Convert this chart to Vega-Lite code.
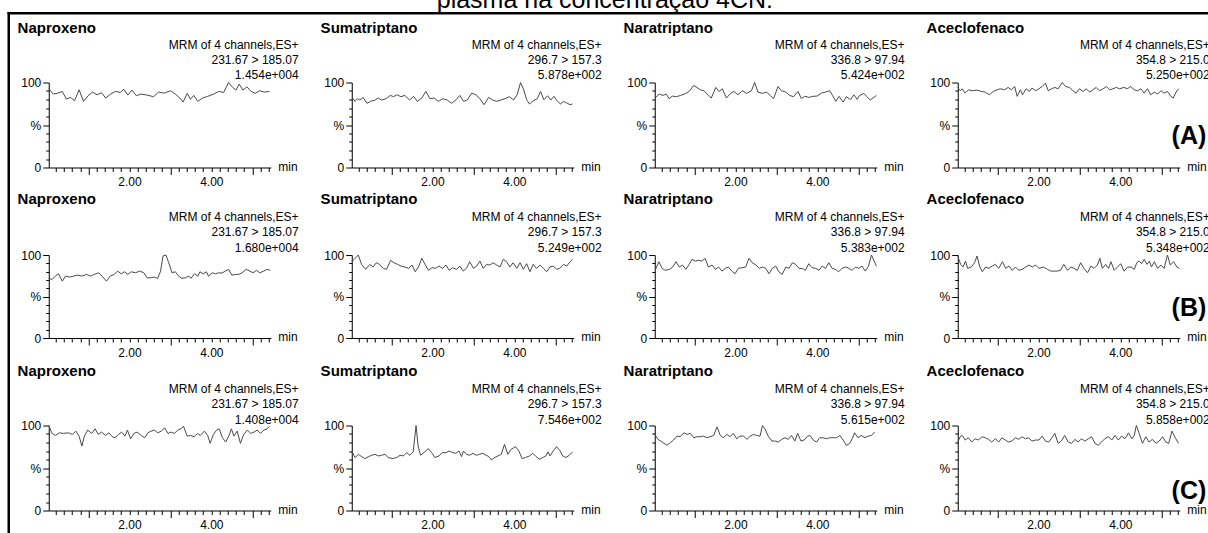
{
"$schema": "https://vega.github.io/schema/vega-lite/v6.json",
"autosize": {"type": "pad"},
"padding": {"left": 6.75, "top": -12.5, "right": -2, "bottom": 0},
"background": "white",
"config": {
  "font": "Liberation Sans",
  "view": {"stroke": null},
  "axis": {"grid": false, "domainColor": "#000", "domainWidth": 1, "tickColor": "#000", "tickWidth": 1, "labelColor": "#000", "labelFontSize": 12, "labelFont": "Liberation Sans", "titleColor": "#000", "titleFont": "Liberation Sans", "titleFontSize": 12, "titleFontWeight": "normal", "labelFlush": false},
  "text": {"color": "#000"}
},
"title": {"text": "plasma na concentração 4CN:", "anchor": "start", "frame": "group", "dx": 388, "dy": 24.5, "offset": 2.5, "baseline": "alphabetic", "fontSize": 25, "fontWeight": "normal", "font": "Liberation Sans", "color": "#000"},
"datasets": {
"A1": [{"t":0.03,"v":92.6},{"t":0.14,"v":86.4},{"t":0.25,"v":87.5},{"t":0.36,"v":89.5},{"t":0.46,"v":80.5},{"t":0.56,"v":82.5},{"t":0.66,"v":78.6},{"t":0.77,"v":91.4},{"t":0.88,"v":77.8},{"t":0.99,"v":84.4},{"t":1.10,"v":88.7},{"t":1.21,"v":85.6},{"t":1.32,"v":87.9},{"t":1.42,"v":81.7},{"t":1.54,"v":86.4},{"t":1.66,"v":89.5},{"t":1.78,"v":88.3},{"t":1.86,"v":92.2},{"t":1.96,"v":85.2},{"t":2.06,"v":91.1},{"t":2.17,"v":84.4},{"t":2.28,"v":86.4},{"t":2.43,"v":85.2},{"t":2.59,"v":83.3},{"t":2.71,"v":88.7},{"t":2.85,"v":87.5},{"t":3.00,"v":90.3},{"t":3.12,"v":86.4},{"t":3.23,"v":81.7},{"t":3.31,"v":77.0},{"t":3.41,"v":87.2},{"t":3.49,"v":80.2},{"t":3.57,"v":84.8},{"t":3.67,"v":77.8},{"t":3.78,"v":81.7},{"t":3.91,"v":83.7},{"t":4.06,"v":86.4},{"t":4.18,"v":89.5},{"t":4.30,"v":88.3},{"t":4.42,"v":100},{"t":4.52,"v":94.2},{"t":4.60,"v":91.1},{"t":4.68,"v":98.1},{"t":4.77,"v":91.1},{"t":4.87,"v":94.9},{"t":4.97,"v":89.5},{"t":5.07,"v":87.2},{"t":5.18,"v":90.3},{"t":5.29,"v":88.7},{"t":5.42,"v":89.5}],
"A2": [{"t":0.05,"v":81.7},{"t":0.11,"v":77.8},{"t":0.17,"v":80.9},{"t":0.23,"v":79.4},{"t":0.31,"v":82.5},{"t":0.40,"v":75.5},{"t":0.49,"v":77.8},{"t":0.60,"v":79.4},{"t":0.68,"v":81.7},{"t":0.76,"v":79.4},{"t":0.87,"v":80.9},{"t":0.97,"v":84.8},{"t":1.05,"v":83.3},{"t":1.14,"v":85.6},{"t":1.23,"v":83.3},{"t":1.33,"v":84.8},{"t":1.44,"v":79.4},{"t":1.54,"v":83.7},{"t":1.63,"v":77.8},{"t":1.74,"v":81.7},{"t":1.84,"v":89.5},{"t":1.94,"v":80.9},{"t":2.04,"v":81.7},{"t":2.15,"v":77.8},{"t":2.25,"v":80.9},{"t":2.36,"v":79.4},{"t":2.47,"v":75.5},{"t":2.58,"v":79.8},{"t":2.67,"v":84.8},{"t":2.76,"v":77.8},{"t":2.85,"v":79.4},{"t":2.96,"v":87.5},{"t":3.06,"v":85.6},{"t":3.16,"v":80.9},{"t":3.26,"v":73.9},{"t":3.37,"v":82.5},{"t":3.47,"v":79.4},{"t":3.57,"v":77.8},{"t":3.67,"v":79.4},{"t":3.77,"v":80.9},{"t":3.88,"v":83.3},{"t":3.98,"v":79.4},{"t":4.07,"v":85.6},{"t":4.15,"v":100},{"t":4.22,"v":92.6},{"t":4.30,"v":79.8},{"t":4.37,"v":74.7},{"t":4.46,"v":78.6},{"t":4.56,"v":80.9},{"t":4.64,"v":89.5},{"t":4.72,"v":79.8},{"t":4.81,"v":84.4},{"t":4.89,"v":79.4},{"t":4.97,"v":83.7},{"t":5.05,"v":77.8},{"t":5.13,"v":74.7},{"t":5.20,"v":77.8},{"t":5.28,"v":75.9},{"t":5.36,"v":73.9},{"t":5.42,"v":74.7}],
"A3": [{"t":0.05,"v":82.5},{"t":0.14,"v":86.4},{"t":0.23,"v":84.8},{"t":0.31,"v":86.4},{"t":0.38,"v":80.9},{"t":0.46,"v":84.0},{"t":0.56,"v":83.3},{"t":0.66,"v":84.8},{"t":0.76,"v":86.4},{"t":0.87,"v":89.5},{"t":0.98,"v":96.5},{"t":1.06,"v":94.2},{"t":1.14,"v":91.4},{"t":1.23,"v":90.3},{"t":1.31,"v":86.4},{"t":1.41,"v":81.7},{"t":1.52,"v":94.2},{"t":1.60,"v":89.5},{"t":1.68,"v":92.6},{"t":1.78,"v":81.7},{"t":1.88,"v":87.2},{"t":1.96,"v":89.5},{"t":2.06,"v":85.6},{"t":2.17,"v":90.3},{"t":2.27,"v":87.2},{"t":2.39,"v":90.3},{"t":2.47,"v":100},{"t":2.55,"v":88.7},{"t":2.66,"v":87.2},{"t":2.76,"v":88.7},{"t":2.85,"v":84.8},{"t":2.93,"v":80.9},{"t":3.04,"v":95.3},{"t":3.12,"v":90.3},{"t":3.23,"v":88.7},{"t":3.32,"v":84.8},{"t":3.42,"v":83.3},{"t":3.53,"v":89.5},{"t":3.61,"v":80.9},{"t":3.69,"v":83.7},{"t":3.80,"v":82.5},{"t":3.89,"v":83.7},{"t":3.99,"v":84.0},{"t":4.10,"v":87.5},{"t":4.20,"v":88.7},{"t":4.30,"v":90.3},{"t":4.37,"v":84.8},{"t":4.45,"v":77.8},{"t":4.53,"v":83.7},{"t":4.63,"v":77.0},{"t":4.71,"v":83.3},{"t":4.81,"v":79.8},{"t":4.89,"v":85.6},{"t":4.97,"v":80.2},{"t":5.03,"v":84.8},{"t":5.13,"v":87.2},{"t":5.21,"v":83.3},{"t":5.29,"v":79.4},{"t":5.38,"v":82.5},{"t":5.44,"v":84.8}],
"A4": [{"t":0.03,"v":94.2},{"t":0.09,"v":90.3},{"t":0.14,"v":92.6},{"t":0.21,"v":87.5},{"t":0.29,"v":91.4},{"t":0.39,"v":90.3},{"t":0.50,"v":91.1},{"t":0.60,"v":89.5},{"t":0.70,"v":88.7},{"t":0.80,"v":85.6},{"t":0.90,"v":89.5},{"t":0.99,"v":91.4},{"t":1.07,"v":92.6},{"t":1.17,"v":91.4},{"t":1.26,"v":94.2},{"t":1.34,"v":91.4},{"t":1.42,"v":95.3},{"t":1.48,"v":83.7},{"t":1.56,"v":91.4},{"t":1.61,"v":85.6},{"t":1.70,"v":92.6},{"t":1.78,"v":89.5},{"t":1.84,"v":93.4},{"t":1.93,"v":90.3},{"t":2.01,"v":92.6},{"t":2.09,"v":95.3},{"t":2.17,"v":99.2},{"t":2.24,"v":90.3},{"t":2.32,"v":92.6},{"t":2.40,"v":94.2},{"t":2.48,"v":92.6},{"t":2.58,"v":100},{"t":2.66,"v":95.3},{"t":2.76,"v":94.2},{"t":2.84,"v":90.3},{"t":2.92,"v":87.5},{"t":3.00,"v":92.6},{"t":3.09,"v":89.5},{"t":3.17,"v":92.6},{"t":3.25,"v":88.7},{"t":3.33,"v":91.4},{"t":3.41,"v":94.2},{"t":3.49,"v":90.3},{"t":3.58,"v":92.6},{"t":3.66,"v":95.3},{"t":3.74,"v":91.4},{"t":3.82,"v":92.6},{"t":3.90,"v":94.2},{"t":3.98,"v":92.6},{"t":4.09,"v":94.2},{"t":4.17,"v":92.6},{"t":4.25,"v":95.3},{"t":4.34,"v":91.4},{"t":4.42,"v":90.3},{"t":4.50,"v":92.6},{"t":4.58,"v":87.5},{"t":4.66,"v":92.6},{"t":4.74,"v":85.6},{"t":4.83,"v":88.7},{"t":4.91,"v":86.4},{"t":4.99,"v":90.3},{"t":5.07,"v":87.5},{"t":5.15,"v":89.5},{"t":5.23,"v":83.7},{"t":5.29,"v":81.7},{"t":5.36,"v":88.7},{"t":5.42,"v":92.6}],
"B1": [{"t":0.03,"v":71.8},{"t":0.11,"v":70.6},{"t":0.19,"v":74.6},{"t":0.27,"v":77.4},{"t":0.36,"v":68.5},{"t":0.44,"v":74.6},{"t":0.54,"v":73.4},{"t":0.64,"v":74.6},{"t":0.74,"v":75.8},{"t":0.84,"v":74.6},{"t":0.95,"v":76.6},{"t":1.05,"v":74.6},{"t":1.14,"v":76.6},{"t":1.25,"v":78.6},{"t":1.33,"v":74.6},{"t":1.44,"v":68.5},{"t":1.53,"v":74.6},{"t":1.63,"v":76.6},{"t":1.71,"v":80.6},{"t":1.80,"v":77.4},{"t":1.88,"v":79.8},{"t":1.96,"v":76.6},{"t":2.04,"v":79.8},{"t":2.15,"v":78.6},{"t":2.25,"v":80.6},{"t":2.35,"v":78.6},{"t":2.43,"v":72.6},{"t":2.53,"v":72.6},{"t":2.61,"v":73.4},{"t":2.69,"v":71.8},{"t":2.76,"v":80.6},{"t":2.82,"v":98.8},{"t":2.89,"v":100},{"t":2.96,"v":90.7},{"t":3.04,"v":78.6},{"t":3.12,"v":79.8},{"t":3.20,"v":74.6},{"t":3.28,"v":71.8},{"t":3.37,"v":72.6},{"t":3.45,"v":74.6},{"t":3.50,"v":71.8},{"t":3.59,"v":77.4},{"t":3.67,"v":74.6},{"t":3.72,"v":79.8},{"t":3.80,"v":77.4},{"t":3.88,"v":79.8},{"t":3.93,"v":74.6},{"t":4.02,"v":78.6},{"t":4.10,"v":77.4},{"t":4.18,"v":78.6},{"t":4.26,"v":78.2},{"t":4.34,"v":80.6},{"t":4.42,"v":82.7},{"t":4.50,"v":75.8},{"t":4.59,"v":76.6},{"t":4.67,"v":76.6},{"t":4.75,"v":78.6},{"t":4.85,"v":82.7},{"t":4.94,"v":80.6},{"t":5.02,"v":78.6},{"t":5.10,"v":81.5},{"t":5.18,"v":78.6},{"t":5.28,"v":80.6},{"t":5.36,"v":82.7},{"t":5.44,"v":81.5}],
"B2": [{"t":0.03,"v":91.9},{"t":0.11,"v":96.0},{"t":0.19,"v":100},{"t":0.27,"v":88.7},{"t":0.37,"v":82.7},{"t":0.47,"v":88.7},{"t":0.55,"v":85.5},{"t":0.63,"v":90.7},{"t":0.71,"v":88.7},{"t":0.80,"v":83.9},{"t":0.88,"v":82.7},{"t":0.98,"v":93.5},{"t":1.06,"v":90.7},{"t":1.15,"v":88.7},{"t":1.23,"v":86.7},{"t":1.33,"v":85.5},{"t":1.42,"v":83.9},{"t":1.50,"v":87.9},{"t":1.58,"v":79.8},{"t":1.66,"v":85.5},{"t":1.74,"v":96.0},{"t":1.82,"v":88.7},{"t":1.90,"v":81.5},{"t":1.99,"v":84.7},{"t":2.08,"v":83.9},{"t":2.16,"v":86.7},{"t":2.25,"v":83.9},{"t":2.33,"v":87.9},{"t":2.41,"v":81.5},{"t":2.49,"v":84.7},{"t":2.59,"v":82.7},{"t":2.67,"v":86.7},{"t":2.75,"v":80.6},{"t":2.83,"v":83.9},{"t":2.91,"v":91.9},{"t":3.00,"v":83.9},{"t":3.08,"v":86.7},{"t":3.16,"v":92.7},{"t":3.24,"v":83.9},{"t":3.32,"v":88.7},{"t":3.40,"v":87.9},{"t":3.48,"v":90.7},{"t":3.57,"v":87.9},{"t":3.65,"v":85.5},{"t":3.73,"v":94.8},{"t":3.81,"v":91.9},{"t":3.89,"v":85.5},{"t":3.97,"v":90.7},{"t":4.06,"v":83.9},{"t":4.14,"v":90.7},{"t":4.22,"v":82.7},{"t":4.30,"v":89.5},{"t":4.38,"v":79.8},{"t":4.46,"v":88.7},{"t":4.54,"v":83.9},{"t":4.63,"v":87.9},{"t":4.71,"v":83.9},{"t":4.79,"v":79.8},{"t":4.87,"v":85.5},{"t":4.95,"v":86.7},{"t":5.03,"v":82.7},{"t":5.11,"v":83.9},{"t":5.20,"v":88.7},{"t":5.28,"v":86.7},{"t":5.36,"v":91.9},{"t":5.42,"v":94.8}],
"B3": [{"t":0.05,"v":82.7},{"t":0.13,"v":91.9},{"t":0.21,"v":83.9},{"t":0.29,"v":81.5},{"t":0.39,"v":82.7},{"t":0.47,"v":85.5},{"t":0.55,"v":91.9},{"t":0.63,"v":85.5},{"t":0.71,"v":87.9},{"t":0.79,"v":82.7},{"t":0.87,"v":88.7},{"t":0.94,"v":94.8},{"t":1.02,"v":92.7},{"t":1.10,"v":93.5},{"t":1.18,"v":92.7},{"t":1.26,"v":96.0},{"t":1.34,"v":85.5},{"t":1.43,"v":87.9},{"t":1.51,"v":82.7},{"t":1.59,"v":85.5},{"t":1.67,"v":80.6},{"t":1.75,"v":83.9},{"t":1.83,"v":85.5},{"t":1.91,"v":80.6},{"t":1.99,"v":77.4},{"t":2.07,"v":83.9},{"t":2.16,"v":84.7},{"t":2.25,"v":85.5},{"t":2.33,"v":96.0},{"t":2.41,"v":90.7},{"t":2.50,"v":87.9},{"t":2.58,"v":83.9},{"t":2.66,"v":85.5},{"t":2.74,"v":83.9},{"t":2.82,"v":77.4},{"t":2.90,"v":83.9},{"t":2.98,"v":86.7},{"t":3.06,"v":79.8},{"t":3.14,"v":76.6},{"t":3.23,"v":85.5},{"t":3.31,"v":83.9},{"t":3.39,"v":90.7},{"t":3.47,"v":88.7},{"t":3.55,"v":83.9},{"t":3.63,"v":83.9},{"t":3.71,"v":81.5},{"t":3.79,"v":89.5},{"t":3.87,"v":84.7},{"t":3.96,"v":83.9},{"t":4.04,"v":81.5},{"t":4.12,"v":86.7},{"t":4.20,"v":83.9},{"t":4.28,"v":90.7},{"t":4.36,"v":83.9},{"t":4.44,"v":82.7},{"t":4.52,"v":79.8},{"t":4.60,"v":83.9},{"t":4.69,"v":85.5},{"t":4.77,"v":83.9},{"t":4.85,"v":81.5},{"t":4.93,"v":85.5},{"t":5.01,"v":83.9},{"t":5.09,"v":86.7},{"t":5.17,"v":80.6},{"t":5.25,"v":86.7},{"t":5.32,"v":100},{"t":5.38,"v":93.5},{"t":5.44,"v":86.7}],
"B4": [{"t":0.03,"v":98.8},{"t":0.10,"v":88.7},{"t":0.16,"v":85.5},{"t":0.22,"v":92.7},{"t":0.27,"v":83.9},{"t":0.36,"v":85.5},{"t":0.44,"v":90.7},{"t":0.50,"v":98.8},{"t":0.57,"v":85.5},{"t":0.63,"v":79.8},{"t":0.71,"v":85.5},{"t":0.79,"v":83.9},{"t":0.87,"v":86.7},{"t":0.95,"v":88.7},{"t":1.03,"v":83.9},{"t":1.12,"v":91.9},{"t":1.20,"v":83.9},{"t":1.28,"v":86.7},{"t":1.36,"v":81.5},{"t":1.44,"v":85.5},{"t":1.52,"v":81.5},{"t":1.60,"v":82.7},{"t":1.69,"v":85.5},{"t":1.77,"v":87.9},{"t":1.85,"v":85.5},{"t":1.93,"v":87.9},{"t":2.01,"v":83.9},{"t":2.12,"v":85.5},{"t":2.22,"v":82.7},{"t":2.30,"v":80.6},{"t":2.38,"v":80.6},{"t":2.46,"v":80.6},{"t":2.54,"v":81.5},{"t":2.62,"v":88.7},{"t":2.71,"v":81.5},{"t":2.79,"v":85.5},{"t":2.87,"v":83.9},{"t":2.95,"v":81.5},{"t":3.03,"v":90.7},{"t":3.11,"v":83.9},{"t":3.20,"v":78.6},{"t":3.28,"v":86.7},{"t":3.36,"v":83.9},{"t":3.44,"v":87.9},{"t":3.50,"v":96.0},{"t":3.56,"v":83.9},{"t":3.64,"v":88.7},{"t":3.71,"v":83.9},{"t":3.77,"v":91.9},{"t":3.85,"v":81.5},{"t":3.93,"v":85.5},{"t":4.01,"v":89.5},{"t":4.09,"v":80.6},{"t":4.18,"v":85.5},{"t":4.26,"v":85.5},{"t":4.34,"v":82.7},{"t":4.40,"v":90.7},{"t":4.46,"v":92.7},{"t":4.52,"v":89.5},{"t":4.58,"v":94.8},{"t":4.65,"v":88.7},{"t":4.71,"v":92.7},{"t":4.76,"v":85.5},{"t":4.83,"v":91.9},{"t":4.91,"v":83.9},{"t":4.99,"v":87.9},{"t":5.07,"v":83.9},{"t":5.15,"v":100},{"t":5.22,"v":87.9},{"t":5.30,"v":91.9},{"t":5.38,"v":85.5},{"t":5.44,"v":83.9}],
"C1": [{"t":0.03,"v":100},{"t":0.11,"v":90.7},{"t":0.19,"v":88.3},{"t":0.29,"v":91.4},{"t":0.39,"v":90.7},{"t":0.51,"v":91.4},{"t":0.61,"v":89.5},{"t":0.69,"v":93.4},{"t":0.77,"v":87.5},{"t":0.84,"v":75.9},{"t":0.90,"v":87.5},{"t":0.98,"v":94.6},{"t":1.08,"v":90.7},{"t":1.16,"v":96.1},{"t":1.24,"v":89.5},{"t":1.32,"v":92.2},{"t":1.42,"v":88.3},{"t":1.50,"v":91.4},{"t":1.58,"v":86.8},{"t":1.65,"v":85.6},{"t":1.73,"v":89.5},{"t":1.81,"v":92.2},{"t":1.89,"v":87.5},{"t":1.95,"v":94.6},{"t":2.03,"v":84.4},{"t":2.11,"v":90.7},{"t":2.19,"v":92.2},{"t":2.29,"v":88.3},{"t":2.37,"v":85.6},{"t":2.45,"v":91.4},{"t":2.53,"v":93.4},{"t":2.61,"v":94.6},{"t":2.69,"v":91.4},{"t":2.78,"v":93.4},{"t":2.86,"v":97.3},{"t":2.94,"v":90.7},{"t":3.02,"v":92.2},{"t":3.10,"v":90.7},{"t":3.18,"v":94.6},{"t":3.26,"v":96.1},{"t":3.32,"v":99.2},{"t":3.41,"v":87.5},{"t":3.49,"v":88.3},{"t":3.58,"v":86.8},{"t":3.66,"v":90.7},{"t":3.73,"v":88.3},{"t":3.83,"v":93.4},{"t":3.91,"v":88.3},{"t":3.97,"v":79.0},{"t":4.05,"v":89.5},{"t":4.13,"v":94.6},{"t":4.19,"v":96.1},{"t":4.27,"v":85.6},{"t":4.35,"v":80.5},{"t":4.43,"v":88.3},{"t":4.49,"v":96.1},{"t":4.55,"v":87.5},{"t":4.63,"v":93.4},{"t":4.71,"v":79.0},{"t":4.79,"v":89.5},{"t":4.88,"v":94.6},{"t":4.96,"v":90.7},{"t":5.04,"v":92.2},{"t":5.12,"v":94.6},{"t":5.20,"v":90.7},{"t":5.28,"v":94.6},{"t":5.36,"v":96.1},{"t":5.42,"v":99.2}],
"C2": [{"t":0.03,"v":70.0},{"t":0.11,"v":62.3},{"t":0.19,"v":66.1},{"t":0.27,"v":63.4},{"t":0.35,"v":61.1},{"t":0.44,"v":63.4},{"t":0.52,"v":65.0},{"t":0.60,"v":66.1},{"t":0.68,"v":64.2},{"t":0.76,"v":65.0},{"t":0.84,"v":66.1},{"t":0.92,"v":62.3},{"t":1.03,"v":61.1},{"t":1.13,"v":62.3},{"t":1.21,"v":65.0},{"t":1.29,"v":64.2},{"t":1.37,"v":68.1},{"t":1.45,"v":65.0},{"t":1.53,"v":68.9},{"t":1.60,"v":100},{"t":1.65,"v":75.9},{"t":1.71,"v":65.0},{"t":1.79,"v":68.1},{"t":1.90,"v":72.8},{"t":1.98,"v":68.1},{"t":2.06,"v":62.3},{"t":2.16,"v":64.2},{"t":2.24,"v":68.1},{"t":2.33,"v":68.1},{"t":2.41,"v":70.0},{"t":2.49,"v":68.1},{"t":2.57,"v":67.3},{"t":2.65,"v":70.0},{"t":2.71,"v":63.4},{"t":2.76,"v":70.0},{"t":2.83,"v":66.1},{"t":2.91,"v":65.0},{"t":2.99,"v":67.3},{"t":3.07,"v":65.0},{"t":3.15,"v":66.1},{"t":3.23,"v":67.3},{"t":3.31,"v":65.0},{"t":3.38,"v":63.4},{"t":3.44,"v":59.5},{"t":3.52,"v":62.3},{"t":3.60,"v":64.2},{"t":3.68,"v":66.1},{"t":3.76,"v":77.8},{"t":3.84,"v":66.1},{"t":3.92,"v":72.0},{"t":4.03,"v":75.1},{"t":4.11,"v":70.0},{"t":4.19,"v":61.1},{"t":4.27,"v":62.3},{"t":4.37,"v":64.2},{"t":4.45,"v":67.3},{"t":4.53,"v":63.4},{"t":4.61,"v":60.3},{"t":4.69,"v":62.3},{"t":4.77,"v":64.2},{"t":4.82,"v":68.9},{"t":4.87,"v":64.2},{"t":4.95,"v":70.0},{"t":5.03,"v":75.1},{"t":5.12,"v":70.0},{"t":5.18,"v":64.2},{"t":5.26,"v":62.3},{"t":5.34,"v":65.0},{"t":5.42,"v":68.9}],
"C3": [{"t":0.03,"v":89.5},{"t":0.11,"v":83.7},{"t":0.21,"v":80.5},{"t":0.33,"v":76.7},{"t":0.41,"v":79.8},{"t":0.49,"v":82.9},{"t":0.57,"v":87.5},{"t":0.65,"v":86.8},{"t":0.74,"v":91.4},{"t":0.82,"v":89.5},{"t":0.90,"v":90.7},{"t":0.98,"v":85.6},{"t":1.06,"v":86.8},{"t":1.14,"v":86.8},{"t":1.22,"v":87.5},{"t":1.30,"v":85.6},{"t":1.38,"v":86.8},{"t":1.47,"v":88.3},{"t":1.55,"v":98.4},{"t":1.63,"v":88.3},{"t":1.71,"v":85.6},{"t":1.79,"v":89.5},{"t":1.87,"v":86.8},{"t":1.95,"v":90.7},{"t":2.03,"v":84.4},{"t":2.11,"v":87.5},{"t":2.20,"v":87.5},{"t":2.28,"v":83.7},{"t":2.36,"v":87.5},{"t":2.44,"v":89.5},{"t":2.52,"v":88.3},{"t":2.60,"v":87.5},{"t":2.66,"v":100},{"t":2.72,"v":96.1},{"t":2.80,"v":87.5},{"t":2.89,"v":81.7},{"t":2.97,"v":81.7},{"t":3.05,"v":80.5},{"t":3.13,"v":83.7},{"t":3.21,"v":85.6},{"t":3.29,"v":83.7},{"t":3.37,"v":88.3},{"t":3.45,"v":81.7},{"t":3.52,"v":90.7},{"t":3.60,"v":81.7},{"t":3.68,"v":82.9},{"t":3.76,"v":87.5},{"t":3.82,"v":88.3},{"t":3.90,"v":82.9},{"t":3.98,"v":80.5},{"t":4.06,"v":85.6},{"t":4.14,"v":85.6},{"t":4.22,"v":84.4},{"t":4.30,"v":85.6},{"t":4.39,"v":85.6},{"t":4.47,"v":85.6},{"t":4.55,"v":88.3},{"t":4.63,"v":82.9},{"t":4.71,"v":76.7},{"t":4.79,"v":79.0},{"t":4.85,"v":84.4},{"t":4.91,"v":91.4},{"t":4.99,"v":85.6},{"t":5.07,"v":88.3},{"t":5.16,"v":85.6},{"t":5.24,"v":87.5},{"t":5.32,"v":88.3},{"t":5.40,"v":92.2}],
"C4": [{"t":0.03,"v":80.5},{"t":0.09,"v":86.8},{"t":0.14,"v":88.3},{"t":0.21,"v":82.9},{"t":0.29,"v":85.6},{"t":0.37,"v":80.5},{"t":0.45,"v":84.4},{"t":0.54,"v":82.9},{"t":0.62,"v":86.8},{"t":0.70,"v":85.6},{"t":0.78,"v":83.7},{"t":0.86,"v":80.5},{"t":0.95,"v":84.4},{"t":1.03,"v":80.5},{"t":1.11,"v":85.6},{"t":1.19,"v":82.9},{"t":1.27,"v":80.5},{"t":1.35,"v":81.7},{"t":1.44,"v":85.6},{"t":1.52,"v":83.7},{"t":1.60,"v":86.8},{"t":1.68,"v":84.4},{"t":1.76,"v":85.6},{"t":1.84,"v":81.7},{"t":1.93,"v":82.9},{"t":2.01,"v":82.9},{"t":2.09,"v":87.5},{"t":2.17,"v":81.7},{"t":2.25,"v":80.5},{"t":2.33,"v":85.6},{"t":2.40,"v":90.7},{"t":2.48,"v":79.0},{"t":2.56,"v":81.7},{"t":2.64,"v":88.3},{"t":2.73,"v":80.5},{"t":2.81,"v":79.0},{"t":2.89,"v":83.7},{"t":2.97,"v":80.5},{"t":3.05,"v":84.4},{"t":3.13,"v":81.7},{"t":3.22,"v":84.4},{"t":3.30,"v":86.8},{"t":3.38,"v":79.0},{"t":3.46,"v":76.7},{"t":3.54,"v":80.5},{"t":3.62,"v":84.4},{"t":3.71,"v":86.8},{"t":3.79,"v":82.9},{"t":3.87,"v":88.3},{"t":3.95,"v":82.9},{"t":4.03,"v":87.5},{"t":4.11,"v":84.4},{"t":4.20,"v":91.4},{"t":4.28,"v":84.4},{"t":4.34,"v":88.3},{"t":4.39,"v":100},{"t":4.46,"v":90.7},{"t":4.54,"v":79.0},{"t":4.62,"v":86.8},{"t":4.70,"v":80.5},{"t":4.78,"v":83.7},{"t":4.87,"v":79.0},{"t":4.95,"v":81.7},{"t":5.03,"v":86.8},{"t":5.11,"v":80.5},{"t":5.18,"v":79.0},{"t":5.26,"v":93.4},{"t":5.34,"v":85.6},{"t":5.42,"v":79.0}]
},
"columns": 4,
"spacing": {"row": 87.5, "column": 81},
"bounds": "flush",
"concat": [
{"width": 222, "height": 85, "layer": [
  {"data": {"name": "A1"}, "mark": {"type": "line", "color": "#4a4a4a", "strokeWidth": 1}, "encoding": {
    "x": {"field": "t", "type": "quantitative", "scale": {"domain": [0.03, 5.45], "nice": false, "zero": false}, "axis": {"title": "min", "tickCount": 100, "labelOverlap": false, "values": [0.2,0.4,0.6,0.8,1,1.2,1.4,1.6,1.8,2,2.2,2.4,2.6,2.8,3,3.2,3.4,3.6,3.8,4,4.2,4.4,4.6,4.8,5,5.2,5.4], "labelExpr": "datum.value == 2 || datum.value == 4 ? format(datum.value, '.2f') : ''", "tickSize": {"condition": {"test": "datum.value == 1 || datum.value == 3 || datum.value == 5", "value": 7}, "value": 4}, "labelPadding": 5, "titleX": 229, "titleY": 2.5, "titleAlign": "left", "titleBaseline": "alphabetic", "titleAngle": 0}},
    "y": {"field": "v", "type": "quantitative", "scale": {"domain": [0, 100], "nice": false}, "axis": {"title": null, "tickCount": 100, "labelOverlap": false, "values": [0,10,20,30,40,50,60,70,80,90,100], "labelExpr": "datum.value == 100 ? '100' : datum.value == 50 ? '%' : datum.value == 0 ? '0' : ''", "tickSize": {"condition": {"test": "datum.value == 0 || datum.value == 50 || datum.value == 100", "value": 6}, "value": 3}, "labelPadding": 2}}}},
  {"data": {"values": [{}]}, "mark": {"type": "rule", "color": "#000", "strokeWidth": 2.5, "strokeCap": "square"}, "encoding": {"x": {"datum": -0.947}, "x2": {"datum": 28.35}, "y": {"datum": 181.5}}},
  {"data": {"values": [{}]}, "mark": {"type": "rule", "color": "#000", "strokeWidth": 2.5, "strokeCap": "square"}, "encoding": {"x": {"datum": -0.947}, "y": {"datum": 181.5}, "y2": {"datum": -432}}},
  {"data": {"values": [{}]}, "mark": {"type": "text", "align": "left", "baseline": "alphabetic", "fontSize": 15, "fontWeight": "bold"}, "encoding": {"x": {"datum": -0.73}, "y": {"datum": 158.8}, "text": {"value": "Naproxeno"}}},
  {"data": {"values": [{}]}, "mark": {"type": "text", "align": "right", "baseline": "alphabetic", "fontSize": 12, "lineHeight": 15.3}, "encoding": {"x": {"datum": 6.13}, "y": {"datum": 140}, "text": {"value": ["MRM of 4 channels,ES+", "231.67 > 185.07", "1.454e+004"]}}}
]},
{"width": 222, "height": 85, "layer": [
  {"data": {"name": "A2"}, "mark": {"type": "line", "color": "#4a4a4a", "strokeWidth": 1}, "encoding": {
    "x": {"field": "t", "type": "quantitative", "scale": {"domain": [0.03, 5.45], "nice": false, "zero": false}, "axis": {"title": "min", "tickCount": 100, "labelOverlap": false, "values": [0.2,0.4,0.6,0.8,1,1.2,1.4,1.6,1.8,2,2.2,2.4,2.6,2.8,3,3.2,3.4,3.6,3.8,4,4.2,4.4,4.6,4.8,5,5.2,5.4], "labelExpr": "datum.value == 2 || datum.value == 4 ? format(datum.value, '.2f') : ''", "tickSize": {"condition": {"test": "datum.value == 1 || datum.value == 3 || datum.value == 5", "value": 7}, "value": 4}, "labelPadding": 5, "titleX": 229, "titleY": 2.5, "titleAlign": "left", "titleBaseline": "alphabetic", "titleAngle": 0}},
    "y": {"field": "v", "type": "quantitative", "scale": {"domain": [0, 100], "nice": false}, "axis": {"title": null, "tickCount": 100, "labelOverlap": false, "values": [0,10,20,30,40,50,60,70,80,90,100], "labelExpr": "datum.value == 100 ? '100' : datum.value == 50 ? '%' : datum.value == 0 ? '0' : ''", "tickSize": {"condition": {"test": "datum.value == 0 || datum.value == 50 || datum.value == 100", "value": 6}, "value": 3}, "labelPadding": 2}}}},
  {"data": {"values": [{}]}, "mark": {"type": "text", "align": "left", "baseline": "alphabetic", "fontSize": 15, "fontWeight": "bold"}, "encoding": {"x": {"datum": -0.73}, "y": {"datum": 158.8}, "text": {"value": "Sumatriptano"}}},
  {"data": {"values": [{}]}, "mark": {"type": "text", "align": "right", "baseline": "alphabetic", "fontSize": 12, "lineHeight": 15.3}, "encoding": {"x": {"datum": 6.13}, "y": {"datum": 140}, "text": {"value": ["MRM of 4 channels,ES+", "296.7 > 157.3", "5.878e+002"]}}}
]},
{"width": 222, "height": 85, "layer": [
  {"data": {"name": "A3"}, "mark": {"type": "line", "color": "#4a4a4a", "strokeWidth": 1}, "encoding": {
    "x": {"field": "t", "type": "quantitative", "scale": {"domain": [0.03, 5.45], "nice": false, "zero": false}, "axis": {"title": "min", "tickCount": 100, "labelOverlap": false, "values": [0.2,0.4,0.6,0.8,1,1.2,1.4,1.6,1.8,2,2.2,2.4,2.6,2.8,3,3.2,3.4,3.6,3.8,4,4.2,4.4,4.6,4.8,5,5.2,5.4], "labelExpr": "datum.value == 2 || datum.value == 4 ? format(datum.value, '.2f') : ''", "tickSize": {"condition": {"test": "datum.value == 1 || datum.value == 3 || datum.value == 5", "value": 7}, "value": 4}, "labelPadding": 5, "titleX": 229, "titleY": 2.5, "titleAlign": "left", "titleBaseline": "alphabetic", "titleAngle": 0}},
    "y": {"field": "v", "type": "quantitative", "scale": {"domain": [0, 100], "nice": false}, "axis": {"title": null, "tickCount": 100, "labelOverlap": false, "values": [0,10,20,30,40,50,60,70,80,90,100], "labelExpr": "datum.value == 100 ? '100' : datum.value == 50 ? '%' : datum.value == 0 ? '0' : ''", "tickSize": {"condition": {"test": "datum.value == 0 || datum.value == 50 || datum.value == 100", "value": 6}, "value": 3}, "labelPadding": 2}}}},
  {"data": {"values": [{}]}, "mark": {"type": "text", "align": "left", "baseline": "alphabetic", "fontSize": 15, "fontWeight": "bold"}, "encoding": {"x": {"datum": -0.73}, "y": {"datum": 158.8}, "text": {"value": "Naratriptano"}}},
  {"data": {"values": [{}]}, "mark": {"type": "text", "align": "right", "baseline": "alphabetic", "fontSize": 12, "lineHeight": 15.3}, "encoding": {"x": {"datum": 6.13}, "y": {"datum": 140}, "text": {"value": ["MRM of 4 channels,ES+", "336.8 > 97.94", "5.424e+002"]}}}
]},
{"width": 222, "height": 85, "layer": [
  {"data": {"name": "A4"}, "mark": {"type": "line", "color": "#4a4a4a", "strokeWidth": 1}, "encoding": {
    "x": {"field": "t", "type": "quantitative", "scale": {"domain": [0.03, 5.45], "nice": false, "zero": false}, "axis": {"title": "min", "tickCount": 100, "labelOverlap": false, "values": [0.2,0.4,0.6,0.8,1,1.2,1.4,1.6,1.8,2,2.2,2.4,2.6,2.8,3,3.2,3.4,3.6,3.8,4,4.2,4.4,4.6,4.8,5,5.2,5.4], "labelExpr": "datum.value == 2 || datum.value == 4 ? format(datum.value, '.2f') : ''", "tickSize": {"condition": {"test": "datum.value == 1 || datum.value == 3 || datum.value == 5", "value": 7}, "value": 4}, "labelPadding": 5, "titleX": 229, "titleY": 2.5, "titleAlign": "left", "titleBaseline": "alphabetic", "titleAngle": 0}},
    "y": {"field": "v", "type": "quantitative", "scale": {"domain": [0, 100], "nice": false}, "axis": {"title": null, "tickCount": 100, "labelOverlap": false, "values": [0,10,20,30,40,50,60,70,80,90,100], "labelExpr": "datum.value == 100 ? '100' : datum.value == 50 ? '%' : datum.value == 0 ? '0' : ''", "tickSize": {"condition": {"test": "datum.value == 0 || datum.value == 50 || datum.value == 100", "value": 6}, "value": 3}, "labelPadding": 2}}}},
  {"data": {"values": [{}]}, "mark": {"type": "text", "align": "left", "baseline": "alphabetic", "fontSize": 15, "fontWeight": "bold"}, "encoding": {"x": {"datum": -0.73}, "y": {"datum": 158.8}, "text": {"value": "Aceclofenaco"}}},
  {"data": {"values": [{}]}, "mark": {"type": "text", "align": "right", "baseline": "alphabetic", "fontSize": 12, "lineHeight": 15.3}, "encoding": {"x": {"datum": 6.18}, "y": {"datum": 140}, "text": {"value": ["MRM of 4 channels,ES+", "354.8 > 215.0", "5.250e+002"]}}},
  {"data": {"values": [{}]}, "mark": {"type": "text", "align": "left", "baseline": "alphabetic", "fontSize": 25, "fontWeight": "bold"}, "encoding": {"x": {"datum": 5.25}, "y": {"datum": 27.1}, "text": {"value": "(A)"}}}
]},
{"width": 222, "height": 83, "layer": [
  {"data": {"name": "B1"}, "mark": {"type": "line", "color": "#4a4a4a", "strokeWidth": 1}, "encoding": {
    "x": {"field": "t", "type": "quantitative", "scale": {"domain": [0.03, 5.45], "nice": false, "zero": false}, "axis": {"title": "min", "tickCount": 100, "labelOverlap": false, "values": [0.2,0.4,0.6,0.8,1,1.2,1.4,1.6,1.8,2,2.2,2.4,2.6,2.8,3,3.2,3.4,3.6,3.8,4,4.2,4.4,4.6,4.8,5,5.2,5.4], "labelExpr": "datum.value == 2 || datum.value == 4 ? format(datum.value, '.2f') : ''", "tickSize": {"condition": {"test": "datum.value == 1 || datum.value == 3 || datum.value == 5", "value": 7}, "value": 4}, "labelPadding": 5, "titleX": 229, "titleY": 2.5, "titleAlign": "left", "titleBaseline": "alphabetic", "titleAngle": 0}},
    "y": {"field": "v", "type": "quantitative", "scale": {"domain": [0, 100], "nice": false}, "axis": {"title": null, "tickCount": 100, "labelOverlap": false, "values": [0,10,20,30,40,50,60,70,80,90,100], "labelExpr": "datum.value == 100 ? '100' : datum.value == 50 ? '%' : datum.value == 0 ? '0' : ''", "tickSize": {"condition": {"test": "datum.value == 0 || datum.value == 50 || datum.value == 100", "value": 6}, "value": 3}, "labelPadding": 2}}}},
  {"data": {"values": [{}]}, "mark": {"type": "text", "align": "left", "baseline": "alphabetic", "fontSize": 15, "fontWeight": "bold"}, "encoding": {"x": {"datum": -0.73}, "y": {"datum": 161.4}, "text": {"value": "Naproxeno"}}},
  {"data": {"values": [{}]}, "mark": {"type": "text", "align": "right", "baseline": "alphabetic", "fontSize": 12, "lineHeight": 15.3}, "encoding": {"x": {"datum": 6.13}, "y": {"datum": 141}, "text": {"value": ["MRM of 4 channels,ES+", "231.67 > 185.07", "1.680e+004"]}}}
]},
{"width": 222, "height": 83, "layer": [
  {"data": {"name": "B2"}, "mark": {"type": "line", "color": "#4a4a4a", "strokeWidth": 1}, "encoding": {
    "x": {"field": "t", "type": "quantitative", "scale": {"domain": [0.03, 5.45], "nice": false, "zero": false}, "axis": {"title": "min", "tickCount": 100, "labelOverlap": false, "values": [0.2,0.4,0.6,0.8,1,1.2,1.4,1.6,1.8,2,2.2,2.4,2.6,2.8,3,3.2,3.4,3.6,3.8,4,4.2,4.4,4.6,4.8,5,5.2,5.4], "labelExpr": "datum.value == 2 || datum.value == 4 ? format(datum.value, '.2f') : ''", "tickSize": {"condition": {"test": "datum.value == 1 || datum.value == 3 || datum.value == 5", "value": 7}, "value": 4}, "labelPadding": 5, "titleX": 229, "titleY": 2.5, "titleAlign": "left", "titleBaseline": "alphabetic", "titleAngle": 0}},
    "y": {"field": "v", "type": "quantitative", "scale": {"domain": [0, 100], "nice": false}, "axis": {"title": null, "tickCount": 100, "labelOverlap": false, "values": [0,10,20,30,40,50,60,70,80,90,100], "labelExpr": "datum.value == 100 ? '100' : datum.value == 50 ? '%' : datum.value == 0 ? '0' : ''", "tickSize": {"condition": {"test": "datum.value == 0 || datum.value == 50 || datum.value == 100", "value": 6}, "value": 3}, "labelPadding": 2}}}},
  {"data": {"values": [{}]}, "mark": {"type": "text", "align": "left", "baseline": "alphabetic", "fontSize": 15, "fontWeight": "bold"}, "encoding": {"x": {"datum": -0.73}, "y": {"datum": 161.4}, "text": {"value": "Sumatriptano"}}},
  {"data": {"values": [{}]}, "mark": {"type": "text", "align": "right", "baseline": "alphabetic", "fontSize": 12, "lineHeight": 15.3}, "encoding": {"x": {"datum": 6.13}, "y": {"datum": 141}, "text": {"value": ["MRM of 4 channels,ES+", "296.7 > 157.3", "5.249e+002"]}}}
]},
{"width": 222, "height": 83, "layer": [
  {"data": {"name": "B3"}, "mark": {"type": "line", "color": "#4a4a4a", "strokeWidth": 1}, "encoding": {
    "x": {"field": "t", "type": "quantitative", "scale": {"domain": [0.03, 5.45], "nice": false, "zero": false}, "axis": {"title": "min", "tickCount": 100, "labelOverlap": false, "values": [0.2,0.4,0.6,0.8,1,1.2,1.4,1.6,1.8,2,2.2,2.4,2.6,2.8,3,3.2,3.4,3.6,3.8,4,4.2,4.4,4.6,4.8,5,5.2,5.4], "labelExpr": "datum.value == 2 || datum.value == 4 ? format(datum.value, '.2f') : ''", "tickSize": {"condition": {"test": "datum.value == 1 || datum.value == 3 || datum.value == 5", "value": 7}, "value": 4}, "labelPadding": 5, "titleX": 229, "titleY": 2.5, "titleAlign": "left", "titleBaseline": "alphabetic", "titleAngle": 0}},
    "y": {"field": "v", "type": "quantitative", "scale": {"domain": [0, 100], "nice": false}, "axis": {"title": null, "tickCount": 100, "labelOverlap": false, "values": [0,10,20,30,40,50,60,70,80,90,100], "labelExpr": "datum.value == 100 ? '100' : datum.value == 50 ? '%' : datum.value == 0 ? '0' : ''", "tickSize": {"condition": {"test": "datum.value == 0 || datum.value == 50 || datum.value == 100", "value": 6}, "value": 3}, "labelPadding": 2}}}},
  {"data": {"values": [{}]}, "mark": {"type": "text", "align": "left", "baseline": "alphabetic", "fontSize": 15, "fontWeight": "bold"}, "encoding": {"x": {"datum": -0.73}, "y": {"datum": 161.4}, "text": {"value": "Naratriptano"}}},
  {"data": {"values": [{}]}, "mark": {"type": "text", "align": "right", "baseline": "alphabetic", "fontSize": 12, "lineHeight": 15.3}, "encoding": {"x": {"datum": 6.13}, "y": {"datum": 141}, "text": {"value": ["MRM of 4 channels,ES+", "336.8 > 97.94", "5.383e+002"]}}}
]},
{"width": 222, "height": 83, "layer": [
  {"data": {"name": "B4"}, "mark": {"type": "line", "color": "#4a4a4a", "strokeWidth": 1}, "encoding": {
    "x": {"field": "t", "type": "quantitative", "scale": {"domain": [0.03, 5.45], "nice": false, "zero": false}, "axis": {"title": "min", "tickCount": 100, "labelOverlap": false, "values": [0.2,0.4,0.6,0.8,1,1.2,1.4,1.6,1.8,2,2.2,2.4,2.6,2.8,3,3.2,3.4,3.6,3.8,4,4.2,4.4,4.6,4.8,5,5.2,5.4], "labelExpr": "datum.value == 2 || datum.value == 4 ? format(datum.value, '.2f') : ''", "tickSize": {"condition": {"test": "datum.value == 1 || datum.value == 3 || datum.value == 5", "value": 7}, "value": 4}, "labelPadding": 5, "titleX": 229, "titleY": 2.5, "titleAlign": "left", "titleBaseline": "alphabetic", "titleAngle": 0}},
    "y": {"field": "v", "type": "quantitative", "scale": {"domain": [0, 100], "nice": false}, "axis": {"title": null, "tickCount": 100, "labelOverlap": false, "values": [0,10,20,30,40,50,60,70,80,90,100], "labelExpr": "datum.value == 100 ? '100' : datum.value == 50 ? '%' : datum.value == 0 ? '0' : ''", "tickSize": {"condition": {"test": "datum.value == 0 || datum.value == 50 || datum.value == 100", "value": 6}, "value": 3}, "labelPadding": 2}}}},
  {"data": {"values": [{}]}, "mark": {"type": "text", "align": "left", "baseline": "alphabetic", "fontSize": 15, "fontWeight": "bold"}, "encoding": {"x": {"datum": -0.73}, "y": {"datum": 161.4}, "text": {"value": "Aceclofenaco"}}},
  {"data": {"values": [{}]}, "mark": {"type": "text", "align": "right", "baseline": "alphabetic", "fontSize": 12, "lineHeight": 15.3}, "encoding": {"x": {"datum": 6.18}, "y": {"datum": 141}, "text": {"value": ["MRM of 4 channels,ES+", "354.8 > 215.0", "5.348e+002"]}}},
  {"data": {"values": [{}]}, "mark": {"type": "text", "align": "left", "baseline": "alphabetic", "fontSize": 25, "fontWeight": "bold"}, "encoding": {"x": {"datum": 5.25}, "y": {"datum": 26.5}, "text": {"value": "(B)"}}}
]},
{"width": 222, "height": 85, "layer": [
  {"data": {"name": "C1"}, "mark": {"type": "line", "color": "#4a4a4a", "strokeWidth": 1}, "encoding": {
    "x": {"field": "t", "type": "quantitative", "scale": {"domain": [0.03, 5.45], "nice": false, "zero": false}, "axis": {"title": "min", "tickCount": 100, "labelOverlap": false, "values": [0.2,0.4,0.6,0.8,1,1.2,1.4,1.6,1.8,2,2.2,2.4,2.6,2.8,3,3.2,3.4,3.6,3.8,4,4.2,4.4,4.6,4.8,5,5.2,5.4], "labelExpr": "datum.value == 2 || datum.value == 4 ? format(datum.value, '.2f') : ''", "tickSize": {"condition": {"test": "datum.value == 1 || datum.value == 3 || datum.value == 5", "value": 7}, "value": 4}, "labelPadding": 5, "titleX": 229, "titleY": 2.5, "titleAlign": "left", "titleBaseline": "alphabetic", "titleAngle": 0}},
    "y": {"field": "v", "type": "quantitative", "scale": {"domain": [0, 100], "nice": false}, "axis": {"title": null, "tickCount": 100, "labelOverlap": false, "values": [0,10,20,30,40,50,60,70,80,90,100], "labelExpr": "datum.value == 100 ? '100' : datum.value == 50 ? '%' : datum.value == 0 ? '0' : ''", "tickSize": {"condition": {"test": "datum.value == 0 || datum.value == 50 || datum.value == 100", "value": 6}, "value": 3}, "labelPadding": 2}}}},
  {"data": {"values": [{}]}, "mark": {"type": "text", "align": "left", "baseline": "alphabetic", "fontSize": 15, "fontWeight": "bold"}, "encoding": {"x": {"datum": -0.73}, "y": {"datum": 158.8}, "text": {"value": "Naproxeno"}}},
  {"data": {"values": [{}]}, "mark": {"type": "text", "align": "right", "baseline": "alphabetic", "fontSize": 12, "lineHeight": 15.3}, "encoding": {"x": {"datum": 6.13}, "y": {"datum": 138.2}, "text": {"value": ["MRM of 4 channels,ES+", "231.67 > 185.07", "1.408e+004"]}}}
]},
{"width": 222, "height": 85, "layer": [
  {"data": {"name": "C2"}, "mark": {"type": "line", "color": "#4a4a4a", "strokeWidth": 1}, "encoding": {
    "x": {"field": "t", "type": "quantitative", "scale": {"domain": [0.03, 5.45], "nice": false, "zero": false}, "axis": {"title": "min", "tickCount": 100, "labelOverlap": false, "values": [0.2,0.4,0.6,0.8,1,1.2,1.4,1.6,1.8,2,2.2,2.4,2.6,2.8,3,3.2,3.4,3.6,3.8,4,4.2,4.4,4.6,4.8,5,5.2,5.4], "labelExpr": "datum.value == 2 || datum.value == 4 ? format(datum.value, '.2f') : ''", "tickSize": {"condition": {"test": "datum.value == 1 || datum.value == 3 || datum.value == 5", "value": 7}, "value": 4}, "labelPadding": 5, "titleX": 229, "titleY": 2.5, "titleAlign": "left", "titleBaseline": "alphabetic", "titleAngle": 0}},
    "y": {"field": "v", "type": "quantitative", "scale": {"domain": [0, 100], "nice": false}, "axis": {"title": null, "tickCount": 100, "labelOverlap": false, "values": [0,10,20,30,40,50,60,70,80,90,100], "labelExpr": "datum.value == 100 ? '100' : datum.value == 50 ? '%' : datum.value == 0 ? '0' : ''", "tickSize": {"condition": {"test": "datum.value == 0 || datum.value == 50 || datum.value == 100", "value": 6}, "value": 3}, "labelPadding": 2}}}},
  {"data": {"values": [{}]}, "mark": {"type": "text", "align": "left", "baseline": "alphabetic", "fontSize": 15, "fontWeight": "bold"}, "encoding": {"x": {"datum": -0.73}, "y": {"datum": 158.8}, "text": {"value": "Sumatriptano"}}},
  {"data": {"values": [{}]}, "mark": {"type": "text", "align": "right", "baseline": "alphabetic", "fontSize": 12, "lineHeight": 15.3}, "encoding": {"x": {"datum": 6.13}, "y": {"datum": 138.2}, "text": {"value": ["MRM of 4 channels,ES+", "296.7 > 157.3", "7.546e+002"]}}}
]},
{"width": 222, "height": 85, "layer": [
  {"data": {"name": "C3"}, "mark": {"type": "line", "color": "#4a4a4a", "strokeWidth": 1}, "encoding": {
    "x": {"field": "t", "type": "quantitative", "scale": {"domain": [0.03, 5.45], "nice": false, "zero": false}, "axis": {"title": "min", "tickCount": 100, "labelOverlap": false, "values": [0.2,0.4,0.6,0.8,1,1.2,1.4,1.6,1.8,2,2.2,2.4,2.6,2.8,3,3.2,3.4,3.6,3.8,4,4.2,4.4,4.6,4.8,5,5.2,5.4], "labelExpr": "datum.value == 2 || datum.value == 4 ? format(datum.value, '.2f') : ''", "tickSize": {"condition": {"test": "datum.value == 1 || datum.value == 3 || datum.value == 5", "value": 7}, "value": 4}, "labelPadding": 5, "titleX": 229, "titleY": 2.5, "titleAlign": "left", "titleBaseline": "alphabetic", "titleAngle": 0}},
    "y": {"field": "v", "type": "quantitative", "scale": {"domain": [0, 100], "nice": false}, "axis": {"title": null, "tickCount": 100, "labelOverlap": false, "values": [0,10,20,30,40,50,60,70,80,90,100], "labelExpr": "datum.value == 100 ? '100' : datum.value == 50 ? '%' : datum.value == 0 ? '0' : ''", "tickSize": {"condition": {"test": "datum.value == 0 || datum.value == 50 || datum.value == 100", "value": 6}, "value": 3}, "labelPadding": 2}}}},
  {"data": {"values": [{}]}, "mark": {"type": "text", "align": "left", "baseline": "alphabetic", "fontSize": 15, "fontWeight": "bold"}, "encoding": {"x": {"datum": -0.73}, "y": {"datum": 158.8}, "text": {"value": "Naratriptano"}}},
  {"data": {"values": [{}]}, "mark": {"type": "text", "align": "right", "baseline": "alphabetic", "fontSize": 12, "lineHeight": 15.3}, "encoding": {"x": {"datum": 6.13}, "y": {"datum": 138.2}, "text": {"value": ["MRM of 4 channels,ES+", "336.8 > 97.94", "5.615e+002"]}}}
]},
{"width": 222, "height": 85, "layer": [
  {"data": {"name": "C4"}, "mark": {"type": "line", "color": "#4a4a4a", "strokeWidth": 1}, "encoding": {
    "x": {"field": "t", "type": "quantitative", "scale": {"domain": [0.03, 5.45], "nice": false, "zero": false}, "axis": {"title": "min", "tickCount": 100, "labelOverlap": false, "values": [0.2,0.4,0.6,0.8,1,1.2,1.4,1.6,1.8,2,2.2,2.4,2.6,2.8,3,3.2,3.4,3.6,3.8,4,4.2,4.4,4.6,4.8,5,5.2,5.4], "labelExpr": "datum.value == 2 || datum.value == 4 ? format(datum.value, '.2f') : ''", "tickSize": {"condition": {"test": "datum.value == 1 || datum.value == 3 || datum.value == 5", "value": 7}, "value": 4}, "labelPadding": 5, "titleX": 229, "titleY": 2.5, "titleAlign": "left", "titleBaseline": "alphabetic", "titleAngle": 0}},
    "y": {"field": "v", "type": "quantitative", "scale": {"domain": [0, 100], "nice": false}, "axis": {"title": null, "tickCount": 100, "labelOverlap": false, "values": [0,10,20,30,40,50,60,70,80,90,100], "labelExpr": "datum.value == 100 ? '100' : datum.value == 50 ? '%' : datum.value == 0 ? '0' : ''", "tickSize": {"condition": {"test": "datum.value == 0 || datum.value == 50 || datum.value == 100", "value": 6}, "value": 3}, "labelPadding": 2}}}},
  {"data": {"values": [{}]}, "mark": {"type": "text", "align": "left", "baseline": "alphabetic", "fontSize": 15, "fontWeight": "bold"}, "encoding": {"x": {"datum": -0.73}, "y": {"datum": 158.8}, "text": {"value": "Aceclofenaco"}}},
  {"data": {"values": [{}]}, "mark": {"type": "text", "align": "right", "baseline": "alphabetic", "fontSize": 12, "lineHeight": 15.3}, "encoding": {"x": {"datum": 6.18}, "y": {"datum": 138.2}, "text": {"value": ["MRM of 4 channels,ES+", "354.8 > 215.0", "5.858e+002"]}}},
  {"data": {"values": [{}]}, "mark": {"type": "text", "align": "left", "baseline": "alphabetic", "fontSize": 25, "fontWeight": "bold"}, "encoding": {"x": {"datum": 5.25}, "y": {"datum": 14.1}, "text": {"value": "(C)"}}}
]}
]
}
